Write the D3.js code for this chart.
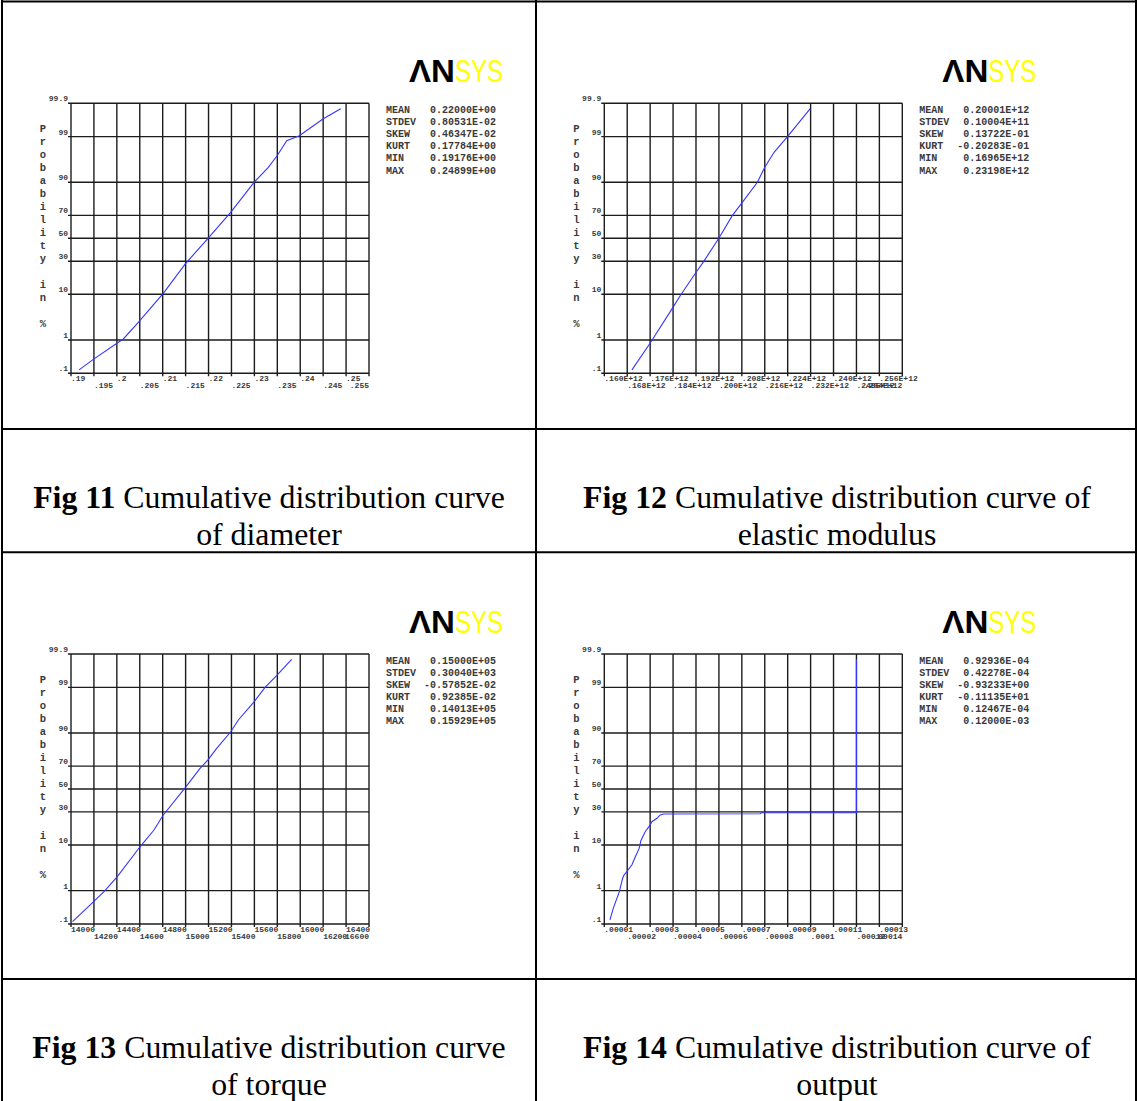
<!DOCTYPE html>
<html>
<head>
<meta charset="utf-8">
<script src="https://cdn.jsdelivr.net/npm/d3@7"></script>
<style>
  body { margin: 0; background: #fff; }
  svg { display: block; }
</style>
</head>
<body>
<div id="container"></div>
<script>
// curve points: x value, cumulative probability in %
const diaX = [0.19176, 0.19502, 0.20010, 0.20141, 0.20468, 0.21013, 0.21493, 0.21988, 0.22483, 0.22992, 0.23304, 0.23500, 0.23705, 0.23980, 0.24503, 0.24883]
const diaP = [0.13, 0.29, 0.83, 1.06, 2.72, 10.4, 27.9, 50, 72.4, 90, 94.8, 97.1, 98.73, 99.06, 99.69, 99.85]

const modX = [0.16965e12, 0.17602e12, 0.18363e12, 0.18654e12, 0.19180e12, 0.19471e12, 0.19997e12, 0.20466e12, 0.20817e12, 0.21343e12, 0.21599e12, 0.21925e12, 0.22394e12, 0.23187e12]
const modP = [0.13, 0.83, 5.3, 9.5, 21.2, 29.9, 50, 69.8, 79.5, 90, 94.8, 97.55, 99.0, 99.85]

const torX = [14013, 14195, 14288, 14404, 14602, 14724, 14805, 14997, 15126, 15195, 15271, 15394, 15460, 15597, 15693, 15800, 15925]
const torP = [0.12, 0.49, 0.94, 2.24, 9.3, 17.4, 27.6, 51.2, 68.2, 74.7, 82.4, 90.5, 94.3, 97.7, 99.0, 99.55, 99.85]

const outX = [1.2467e-5, 1.394e-5, 1.657e-5, 1.762e-5, 1.833e-5, 1.982e-5, 2.201e-5, 2.345e-5, 2.521e-5, 2.595e-5, 2.783e-5, 2.972e-5, 3.077e-5, 3.296e-5, 3.441e-5, 3.585e-5, 7.80e-5, 7.85e-5, 1.2e-4, 1.2e-4]
const outP = [0.136, 0.32, 0.94, 1.69, 2.32, 2.92, 4.1, 5.9, 8.7, 11.8, 16.4, 19.9, 22.7, 25.1, 27.6, 28.4, 28.5, 29.3, 29.4, 99.85]

// x ticks
const diaTicks = [0.19, 0.195, 0.2, 0.205, 0.21, 0.215, 0.22, 0.225, 0.23, 0.235, 0.24, 0.245, 0.25, 0.255]
const diaLabels = [".19", ".195", ".2", ".205", ".21", ".215", ".22", ".225", ".23", ".235", ".24", ".245", ".25", ".255"]
const modTicks = [0.160e12, 0.168e12, 0.176e12, 0.184e12, 0.192e12, 0.200e12, 0.208e12, 0.216e12, 0.224e12, 0.232e12, 0.240e12, 0.248e12, 0.256e12, 0.264e12]
const modLabels = [".160E+12", ".168E+12", ".176E+12", ".184E+12", ".192E+12", ".200E+12", ".208E+12", ".216E+12", ".224E+12", ".232E+12", ".240E+12", ".248E+12", ".256E+12", ".264E+12"]
const torTicks = [14000, 14200, 14400, 14600, 14800, 15000, 15200, 15400, 15600, 15800, 16000, 16200, 16400, 16600]
const torLabels = ["14000", "14200", "14400", "14600", "14800", "15000", "15200", "15400", "15600", "15800", "16000", "16200", "16400", "16600"]
const outTicks = [0.00001, 0.00002, 0.00003, 0.00004, 0.00005, 0.00006, 0.00007, 0.00008, 0.00009, 0.0001, 0.00011, 0.00012, 0.00013, 0.00014]
const outLabels = [".00001", ".00002", ".00003", ".00004", ".00005", ".00006", ".00007", ".00008", ".00009", ".0001", ".00011", ".00012", ".00013", ".00014"]

// probability axis
const probTicks = [99.9, 99, 90, 70, 50, 30, 10, 1, 0.1]
const probLabels = ["99.9", "99", "90", "70", "50", "30", "10", "1", ".1"]

// statistics boxes
const statNames = ["MEAN", "STDEV", "SKEW", "KURT", "MIN", "MAX"]
const diaStats = ["0.22000E+00", "0.80531E-02", "0.46347E-02", "0.17784E+00", "0.19176E+00", "0.24899E+00"]
const modStats = ["0.20001E+12", "0.10004E+11", "0.13722E-01", "-0.20283E-01", "0.16965E+12", "0.23198E+12"]
const torStats = ["0.15000E+05", "0.30040E+03", "-0.57852E-02", "0.92385E-02", "0.14013E+05", "0.15929E+05"]
const outStats = ["0.92936E-04", "0.42278E-04", "-0.93233E+00", "-0.11135E+01", "0.12467E-04", "0.12000E-03"]

const captionNums = ["Fig 11", "Fig 12", "Fig 13", "Fig 14"]
const captionLine1 = [" Cumulative distribution curve", " Cumulative distribution curve of", " Cumulative distribution curve", " Cumulative distribution curve of"]
const captionLine2 = ["of diameter", "elastic modulus", "of torque", "output"]

const width = 1137
const height = 1101

// inverse of the standard normal cdf (Acklam), used by the probability scale
function probit(p) {
  const a = [-3.969683028665376e+01, 2.209460984245205e+02, -2.759285104469687e+02, 1.383577518672690e+02, -3.066479806614716e+01, 2.506628277459239e+00]
  const b = [-5.447609879822406e+01, 1.615858368580409e+02, -1.556989798598866e+02, 6.680131188771972e+01, -1.328068155288572e+01]
  const c = [-7.784894002430293e-03, -3.223964580411365e-01, -2.400758277161838e+00, -2.549732539343734e+00, 4.374664141464968e+00, 2.938163982698783e+00]
  const d = [7.784695709041462e-03, 3.224671290700398e-01, 2.445134137142996e+00, 3.754408661907416e+00]
  const pl = 0.02425
  let q, r
  if (p < pl) {
    q = Math.sqrt(-2 * Math.log(p))
    return (((((c[0]*q+c[1])*q+c[2])*q+c[3])*q+c[4])*q+c[5]) / ((((d[0]*q+d[1])*q+d[2])*q+d[3])*q+1)
  }
  if (p > 1 - pl) {
    q = Math.sqrt(-2 * Math.log(1 - p))
    return -(((((c[0]*q+c[1])*q+c[2])*q+c[3])*q+c[4])*q+c[5]) / ((((d[0]*q+d[1])*q+d[2])*q+d[3])*q+1)
  }
  q = p - 0.5
  r = q * q
  return (((((a[0]*r+a[1])*r+a[2])*r+a[3])*r+a[4])*r+a[5])*q / (((((b[0]*r+b[1])*r+b[2])*r+b[3])*r+b[4])*r+1)
}

const svg = d3.select('#container')
  .append('svg')
  .attr('width', width)
  .attr('height', height)
  .attr('viewBox', [0, 0, width, height])

svg.append('rect').attr('width', width).attr('height', height).attr('fill', '#fff')

// table rules
const colX = [2, 536, 1136]
const rowY = [1.5, 429, 552.3, 979]
svg.append('g')
  .attr('stroke', '#000')
  .attr('stroke-width', 2)
  .call(g => {
    g.selectAll('.h').data(rowY).join('line')
      .attr('x1', 1).attr('x2', width).attr('y1', d => d).attr('y2', d => d)
    g.selectAll('.v').data(colX).join('line')
      .attr('x1', d => d).attr('x2', d => d).attr('y1', 0).attr('y2', height)
  })

const plotW = 298
const plotH = 270
const mono = '"Liberation Mono", "DejaVu Sans Mono", monospace'
const ink = '#3a3a3a'

const charts = [
  { left: 71, top: 103.3, xs: diaX, ps: diaP, ticks: diaTicks, labels: diaLabels, stats: diaStats },
  { left: 604.3, top: 103.3, xs: modX, ps: modP, ticks: modTicks, labels: modLabels, stats: modStats },
  { left: 71, top: 654, xs: torX, ps: torP, ticks: torTicks, labels: torLabels, stats: torStats },
  { left: 604.3, top: 654, xs: outX, ps: outP, ticks: outTicks, labels: outLabels, stats: outStats }
]

charts.forEach(c => {
  const x = d3.scaleLinear([c.ticks[0], c.ticks[c.ticks.length - 1]], [0, plotW])
  const z = d3.scaleLinear([probit(0.001), probit(0.999)], [plotH, 0])
  const y = p => z(probit(p / 100))

  const g = svg.append('g').attr('transform', `translate(${c.left},${c.top})`)

  // grid
  g.append('g')
    .attr('stroke', '#1c1c1c')
    .attr('stroke-width', 1.4)
    .call(gg => {
      gg.selectAll('.gx').data(c.ticks).join('line')
        .attr('x1', d => x(d)).attr('x2', d => x(d))
        .attr('y1', 0).attr('y2', plotH + 3)
      gg.selectAll('.gy').data(probTicks).join('line')
        .attr('x1', -3).attr('x2', plotW)
        .attr('y1', d => y(d)).attr('y2', d => y(d))
    })

  // x tick labels, staggered on two rows
  g.append('g')
    .attr('font-family', mono)
    .attr('font-size', 8)
    .attr('font-weight', 'bold')
    .attr('fill', ink)
    .selectAll('text')
    .data(c.ticks)
    .join('text')
    .attr('x', (d, i) => i === c.ticks.length - 1 ? plotW : x(d))
    .attr('y', (d, i) => plotH + (i % 2 ? 15 : 7.8))
    .attr('text-anchor', (d, i) => i === c.ticks.length - 1 ? 'end' : 'start')
    .text((d, i) => c.labels[i])

  // probability labels
  g.append('g')
    .attr('font-family', mono)
    .attr('font-size', 8)
    .attr('font-weight', 'bold')
    .attr('fill', ink)
    .attr('text-anchor', 'end')
    .selectAll('text')
    .data(probTicks)
    .join('text')
    .attr('x', -3)
    .attr('y', d => y(d) - 2)
    .text((d, i) => probLabels[i])

  // vertical axis title
  g.append('g')
    .attr('font-family', mono)
    .attr('font-size', 10.5)
    .attr('font-weight', 'bold')
    .attr('fill', ink)
    .attr('text-anchor', 'middle')
    .selectAll('text')
    .data('Probability in %'.split(''))
    .join('text')
    .attr('x', -28)
    .attr('y', (d, i) => 29 + i * 13)
    .text(d => d)

  // curve
  g.append('path')
    .datum(c.xs.map((v, i) => [v, c.ps[i]]))
    .attr('fill', 'none')
    .attr('stroke', '#3535ff')
    .attr('stroke-width', 1.1)
    .attr('d', d3.line(d => x(d[0]), d => y(d[1])))

  // statistics
  const st = g.append('g')
    .attr('font-family', mono)
    .attr('font-size', 10)
    .attr('font-weight', 'bold')
    .attr('fill', ink)
  st.selectAll('.n').data(statNames).join('text')
    .attr('x', 315).attr('y', (d, i) => 9.5 + i * 12.15)
    .text(d => d)
  st.selectAll('.v').data(c.stats).join('text')
    .attr('x', 425).attr('y', (d, i) => 9.5 + i * 12.15)
    .attr('text-anchor', 'end')
    .text(d => d)

  // logo
  const logo = g.append('text')
    .attr('x', 338).attr('y', -21.3)
    .attr('font-family', '"Liberation Sans", Arial, sans-serif')
    .attr('font-size', 31)
  logo.append('tspan').attr('font-weight', 'bold').attr('fill', '#000')
    .attr('textLength', 46).attr('lengthAdjust', 'spacingAndGlyphs').text('ΛN')
  logo.append('tspan').attr('fill', '#ffff00')
    .attr('textLength', 48).attr('lengthAdjust', 'spacingAndGlyphs').text('SYS')
})

// captions
const capCx = [269, 837, 269, 837]
const capY = [508, 508, 1058, 1058]
const cap = svg.append('g')
  .attr('font-family', '"Liberation Serif", "Times New Roman", serif')
  .attr('font-size', 31.8)
  .attr('fill', '#000')
  .attr('text-anchor', 'middle')
captionNums.forEach((n, i) => {
  const t = cap.append('text').attr('x', capCx[i]).attr('y', capY[i]).attr('xml:space', 'preserve')
  t.append('tspan').attr('font-weight', 'bold').text(n)
  t.append('tspan').text(captionLine1[i])
  cap.append('text').attr('x', capCx[i]).attr('y', capY[i] + 37).text(captionLine2[i])
})
</script>
</body>
</html>
